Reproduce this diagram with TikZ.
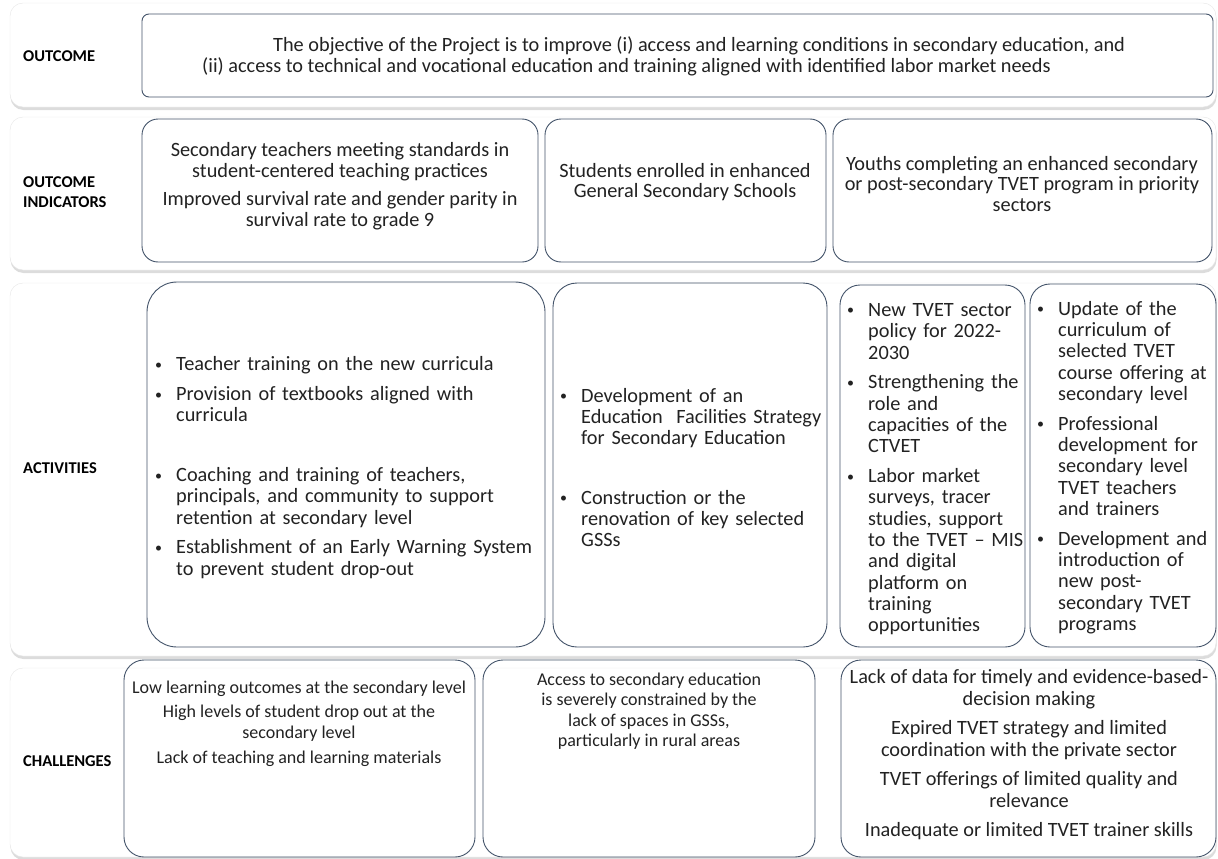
\documentclass[tikz,border=0pt]{standalone}
\usepackage{fontspec}
\setmainfont{Carlito}
\usepackage{enumitem}
\usetikzlibrary{shadows}
\definecolor{boxline}{HTML}{44546A}
\definecolor{rowline}{HTML}{E6E6E6}
\definecolor{txt}{HTML}{222222}
\setlist[itemize]{label=\raisebox{1.5pt}{\fontsize{14}{14}\selectfont\textbullet}, leftmargin=21pt, labelwidth=21pt, labelsep=0pt, align=left,
  itemsep=8.5pt, topsep=0pt, parsep=0pt, partopsep=0pt, before=\raggedright}
\tikzset{
  row/.style={draw=rowline, fill=white, rounded corners=13pt,
    drop shadow={shadow xshift=0.5pt, shadow yshift=-3pt, fill=gray!55}},
  inbox/.style={draw=boxline, line width=0.9pt, rounded corners=#1},
  inbox/.default=16pt,
  lbl/.style={font=\fontsize{16.5}{20}\selectfont\bfseries, align=left, anchor=west, text=black, inner sep=0pt},
  body/.style={font=\fontsize{20.3}{20.8}\selectfont, align=center, text=txt, inner sep=0pt},
  small body/.style={body, font=\fontsize{18}{20.5}\selectfont},
  lst/.style={font=\fontsize{20.3}{21.3}\selectfont, text width=#1, align=left, anchor=west, text=txt, inner sep=0pt},
}
\begin{document}
\begin{tikzpicture}[x=1pt,y=-1pt]
\useasboundingbox (0,0) rectangle (1218,859);
% rows
\draw[row] (10,3) rectangle (1216,107);
\draw[row] (10,117) rectangle (1216,270);
\draw[row] (10,283) rectangle (1216,656);
\draw[row] (10,668) rectangle (1216,857);

% boxes
\draw[inbox=7pt] (142,14) rectangle (1213,97);
\draw[inbox] (142,119) rectangle (538,262);
\draw[inbox] (545,119) rectangle (826,262);
\draw[inbox] (833,119) rectangle (1212,262);
\draw[inbox=30pt] (147,282) rectangle (545,647);
\draw[inbox=24pt] (553,283) rectangle (827,647);
\draw[inbox=20pt] (840,285) rectangle (1025,647);
\draw[inbox=20pt] (1030,284) rectangle (1216,647);
\draw[inbox=20pt] (124,660) rectangle (475,857);
\draw[inbox=20pt] (483,660) rectangle (815,857);
\draw[inbox=20pt] (841,660) rectangle (1216,857);

% row labels
\node[lbl] (outcome) at (23,56) {OUTCOME};
\node[lbl] (indicators) at (23,192) {OUTCOME\\INDICATORS};
\node[lbl] (activities) at (23,468) {ACTIVITIES};
\node[lbl] (challenges) at (23,761) {CHALLENGES};

% outcome
\node[body, align=left, anchor=west] (objective) at (202,56) {\hspace*{71pt}The objective of the Project is to improve (i) access and learning conditions in secondary education, and\\
(ii) access to technical and vocational education and training aligned with identified labor market needs};

% indicators
\node[body] (ind1) at (340,186) {Secondary teachers meeting standards in\\student-centered teaching practices\\[7pt]
Improved survival rate and gender parity in\\survival rate to grade 9};
\node[body] (ind2) at (685,182) {Students enrolled in enhanced\\General Secondary Schools};
\node[body] (ind3) at (1022,184) {Youths completing an enhanced secondary\\or post-secondary TVET program in priority\\sectors};

% activities
\node[lst=385pt] (act1) at (155,464) {\begin{itemize}
\item Teacher training on the new curricula
\item Provision of textbooks aligned with\\curricula
\item[]
\item Coaching and training of teachers,\\principals, and community to support\\retention at secondary level
\item Establishment of an Early Warning System\\to prevent student drop-out
\end{itemize}};
\node[lst=268pt] (act2) at (560,464) {\begin{itemize}
\item Development of an\\Education~ Facilities Strategy\\for Secondary Education
\item[]
\item Construction or the\\renovation of key selected\\GSSs
\end{itemize}};
\node[lst=180pt] (act3) at (847,465) {\begin{itemize}
\item New TVET sector\\policy for 2022-\\2030
\item Strengthening the\\role and\\capacities of the\\CTVET
\item Labor market\\surveys, tracer\\studies, support\\to the TVET -- MIS\\and digital\\platform on\\training\\opportunities
\end{itemize}};
\node[lst=178pt] (act4) at (1037,464) {\begin{itemize}
\item Update of the\\curriculum of\\selected TVET\\course offering at\\secondary level
\item Professional\\development for\\secondary level\\TVET teachers\\and trainers
\item Development and\\introduction of\\new post-\\secondary TVET\\programs
\end{itemize}};

% challenges
\node[small body] (ch1) at (299,724) {Low learning outcomes at the secondary level\\[4pt]
High levels of student drop out at the\\secondary level\\[5pt]
Lack of teaching and learning materials};
\node[small body] (ch2) at (649,711) {Access to secondary education\\is severely constrained by the\\lack of spaces in GSSs,\\particularly in rural areas};
\node[body, font=\fontsize{20.3}{21.5}\selectfont] (ch3) at (1029,755) {Lack of data for timely and evidence-based-\\decision making\\[8pt]
Expired TVET strategy and limited\\coordination with the private sector\\[8pt]
TVET offerings of limited quality and\\relevance\\[8pt]
Inadequate or limited TVET trainer skills};
\end{tikzpicture}
\end{document}
